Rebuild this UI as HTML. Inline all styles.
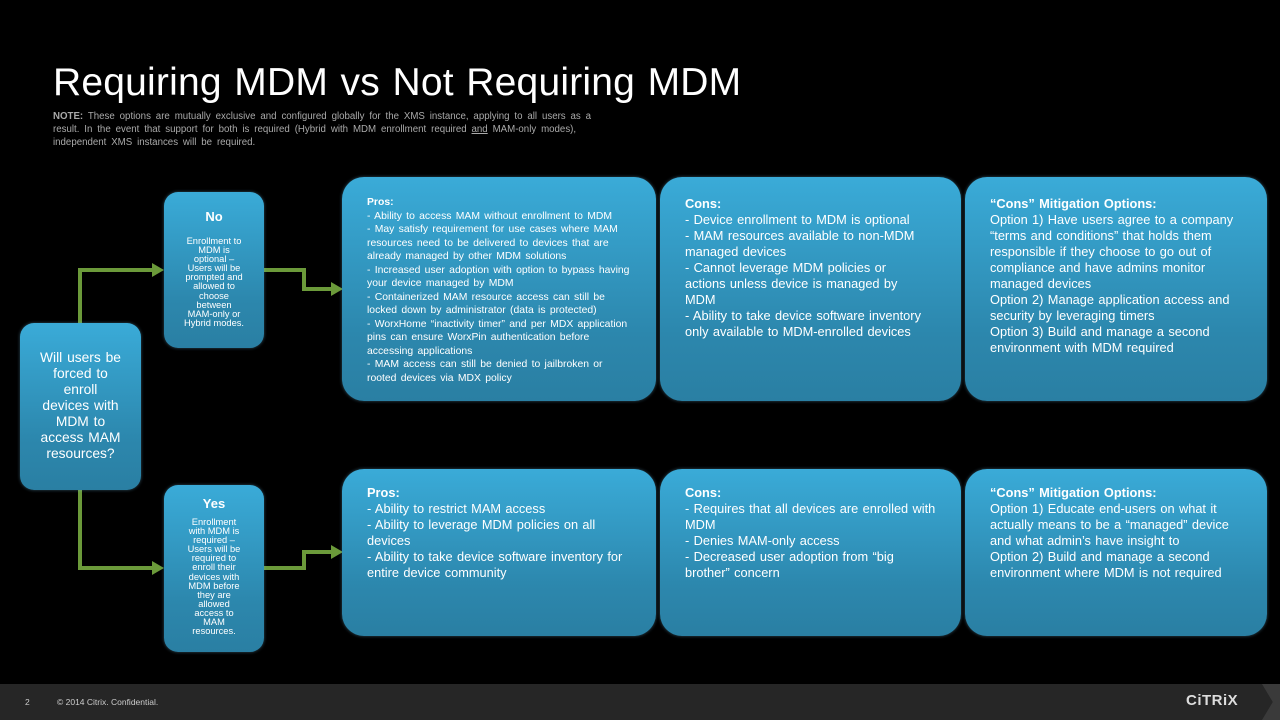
<!DOCTYPE html>
<html><head><meta charset="utf-8"><style>
*{margin:0;padding:0;box-sizing:border-box}
body{width:1280px;height:720px;background:#000;position:relative;overflow:hidden;font-family:"Liberation Sans",sans-serif;color:#fff}
.b{position:absolute;background:linear-gradient(#3aabd8,#2c87ad 70%,#2a7fa3);border-radius:22px;box-shadow:0 0 3px rgba(120,200,240,.4)}
.s{border-radius:14px;text-align:center}
.t{position:absolute;font-size:12.8px;line-height:16px;left:25px;top:19px;width:255px;word-spacing:0.8px;text-align:left}
.t b{font-weight:bold}
.small{font-size:9.3px;line-height:9.1px}
</style></head><body>
<div style="position:absolute;left:53px;top:61px;font-size:39px;word-spacing:1.5px;letter-spacing:0.2px">Requiring MDM vs Not Requiring MDM</div>
<div style="position:absolute;left:53px;top:110px;font-size:9.7px;line-height:13px;color:#aaa;width:562px;word-spacing:2.2px"><b>NOTE:</b> These options are mutually exclusive and configured globally for the XMS instance, applying to all users as a result. In the event that support for both is required (Hybrid with MDM enrollment required <u>and</u> MAM-only modes), independent XMS instances will be required.</div>

<svg style="position:absolute;left:0;top:0" width="1280" height="720">
<g fill="none" stroke="#6b9a3a" stroke-width="4">
<polyline points="80,323 80,270 152,270"/>
<polyline points="263,270 304,270 304,289 331,289"/>
<polyline points="80,490 80,568 152,568"/>
<polyline points="263,568 304,568 304,552 331,552"/>
</g>
<g fill="#6b9a3a">
<polygon points="152,263 164,270 152,277"/>
<polygon points="331,282 343,289 331,296"/>
<polygon points="152,561 164,568 152,575"/>
<polygon points="331,545 343,552 331,559"/>
</g>
</svg>

<div class="b s" style="left:20px;top:323px;width:121px;height:167px;padding-top:27px;font-size:13.8px;line-height:16px;word-spacing:1px">Will users be<br>forced to<br>enroll<br>devices with<br>MDM to<br>access MAM<br>resources?</div>

<div class="b s" style="left:164px;top:192px;width:100px;height:156px;padding-top:17px"><div style="font-size:13px;font-weight:bold">No</div><div class="small" style="margin-top:13px">Enrollment to<br>MDM is<br>optional –<br>Users will be<br>prompted and<br>allowed to<br>choose<br>between<br>MAM-only or<br>Hybrid modes.</div></div>

<div class="b s" style="left:164px;top:485px;width:100px;height:167px;padding-top:11px"><div style="font-size:13px;font-weight:bold">Yes</div><div class="small" style="margin-top:7px">Enrollment<br>with MDM is<br>required –<br>Users will be<br>required to<br>enroll their<br>devices with<br>MDM before<br>they are<br>allowed<br>access to<br>MAM<br>resources.</div></div>

<div class="b" style="left:342px;top:177px;width:314px;height:224px"><div class="t" style="font-size:10.4px;line-height:13.5px;top:19px;width:268px;word-spacing:1.4px"><b>Pros:</b><br>- Ability to access MAM without enrollment to MDM<br>- May satisfy requirement for use cases where MAM resources need to be delivered to devices that are already managed by other MDM solutions<br>- Increased user adoption with option to bypass having your device managed by MDM<br>- Containerized MAM resource access can still be locked down by administrator (data is protected)<br>- WorxHome “inactivity timer” and per MDX application pins can ensure WorxPin authentication before accessing applications<br>- MAM access can still be denied to jailbroken or rooted devices via MDX policy</div></div>

<div class="b" style="left:660px;top:177px;width:301px;height:224px"><div class="t" style="width:242px"><b>Cons:</b><br>- Device enrollment to MDM is optional<br>- MAM resources available to non-MDM managed devices<br>- Cannot leverage MDM policies or actions unless device is managed by MDM<br>- Ability to take device software inventory only available to MDM-enrolled devices</div></div>

<div class="b" style="left:965px;top:177px;width:302px;height:224px"><div class="t" style="width:255px"><b>“Cons” Mitigation Options:</b><br>Option 1) Have users agree to a company “terms and conditions” that holds them responsible if they choose to go out of compliance and have admins monitor managed devices<br>Option 2) Manage application access and security by leveraging timers<br>Option 3) Build and manage a second environment with MDM required</div></div>

<div class="b" style="left:342px;top:469px;width:314px;height:167px"><div class="t" style="top:16px;width:264px"><b>Pros:</b><br>- Ability to restrict MAM access<br>- Ability to leverage MDM policies on all devices<br>- Ability to take device software inventory for entire device community</div></div>

<div class="b" style="left:660px;top:469px;width:301px;height:167px"><div class="t" style="top:16px;width:253px"><b>Cons:</b><br>- Requires that all devices are enrolled with MDM<br>- Denies MAM-only access<br>- Decreased user adoption from “big brother” concern</div></div>

<div class="b" style="left:965px;top:469px;width:302px;height:167px"><div class="t" style="top:16px;width:246px"><b>“Cons” Mitigation Options:</b><br>Option 1) Educate end-users on what it actually means to be a “managed” device and what admin’s have insight to<br>Option 2) Build and manage a second environment where MDM is not required</div></div>

<div style="position:absolute;left:0;top:684px;width:1280px;height:36px;background:#262626"></div>
<div style="position:absolute;left:1262px;top:684px;width:18px;height:36px;background:#3a3a3a;clip-path:polygon(0 0,100% 0,100% 100%,0 100%,60% 50%)"></div>
<div style="position:absolute;left:25px;top:697px;font-size:8.5px;color:#ccc">2</div>
<div style="position:absolute;left:57px;top:697px;font-size:8.5px;color:#ccc">© 2014 Citrix. Confidential.</div>
<div style="position:absolute;left:1186px;top:692px;font-size:15px;font-weight:bold;color:#ddd;letter-spacing:0.5px">CiTRiX</div>
</body></html>
